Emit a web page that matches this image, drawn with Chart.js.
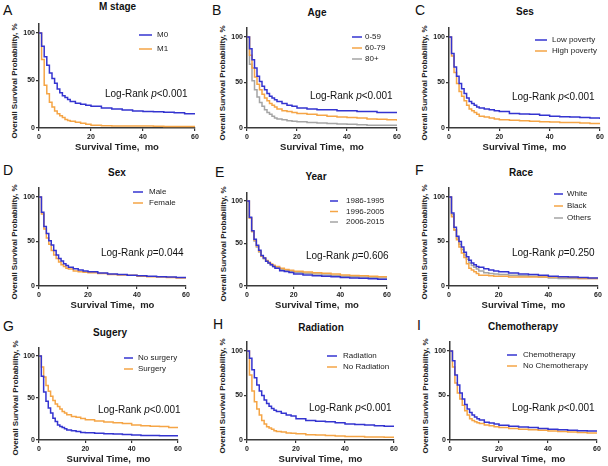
<!DOCTYPE html>
<html>
<head>
<meta charset="utf-8">
<script src="https://cdn.jsdelivr.net/npm/chart.js@4.4.0/dist/chart.umd.min.js"></script>
<style>
  body { margin: 0; background: #fff; width: 608px; height: 466px; position: relative; overflow: hidden;
         font-family: "Liberation Sans", Arial, sans-serif; }
  canvas { position: absolute; }
  .letter { position: absolute; font-size: 14px; line-height: 14px; color: #111; }
  .ttl { position: absolute; font-size: 10px; font-weight: bold; line-height: 10px; color: #111;
         transform: translate(-50%, -50%); white-space: nowrap; }
  .ytl { position: absolute; font-size: 8px; font-weight: bold; line-height: 8px; color: #222;
         transform: translate(-50%, -50%) rotate(-90deg); white-space: nowrap; }
</style>
</head>
<body>
<script>
// time points (months) shared by every curve
const months = [0, 1, 2, 3, 4, 5, 6, 7, 8, 9, 10, 11, 12, 14, 16, 18, 20, 24, 28, 32, 36, 40, 44, 48, 52, 56, 60];

// A - M stage
const mstageLabels = ['M0', 'M1'];
const mstageM0 = [100, 86, 75, 66, 58, 52, 47, 41, 37, 34, 32, 30, 28, 26, 25, 24, 23, 21, 20, 19, 18, 17.5, 17, 16.5, 16, 15, 15];
const mstageM1 = [100, 72, 45, 36, 27, 22, 18, 15, 13, 11, 9, 8, 7, 6, 5, 4, 3, 2.5, 2, 2, 2, 2, 1.8, 1.5, 1.5, 1.5, 1.5];

// B - Age
const ageLabels = ['0-59', '60-79', '80+'];
const age059 = [100, 87, 75, 66, 57, 51, 46, 42, 38, 35, 33, 31, 29, 27, 25, 24, 22, 21, 20, 20, 19, 19, 18, 18, 17, 17, 16.5];
const age6079 = [100, 80, 66, 56, 48, 42, 37, 33, 30, 27, 25, 23, 21, 19, 18, 17, 16, 15, 14, 13, 12, 11.5, 11, 10, 9.5, 9, 8];
const age80 = [100, 70, 52, 42, 34, 28, 24, 20, 17, 15, 13, 11, 10, 9, 8, 7.5, 7, 6, 5.5, 5, 4.5, 4, 3.5, 3, 3, 3, 3];

// C - Ses
const sesLabels = ['Low poverty', 'High poverty'];
const sesLow = [100, 82, 67, 57, 49, 43, 38, 33, 29, 27, 25, 23, 22, 21, 20, 19, 18, 16, 15.5, 15, 14, 13, 12.5, 12, 11.5, 11, 10];
const sesHigh = [100, 79, 61, 49, 40, 35, 30, 25, 21, 19, 17, 15, 13, 12, 11, 10, 9, 8.5, 8, 7.5, 7, 6.5, 6, 6, 5.5, 5, 5];

// D - Sex
const sexLabels = ['Male', 'Female'];
const sexMale = [100, 83, 67, 59, 51, 46, 40, 35, 31, 28, 25, 23, 21, 19.5, 18, 17, 16, 14.5, 13.5, 13, 12, 11.5, 11, 10.5, 10, 9.5, 9];
const sexFemale = [100, 81, 64, 54, 47, 40, 35, 31, 27, 24, 22, 20, 19, 17, 16, 15.5, 15, 14, 13, 12.5, 12, 11, 10.5, 10, 9.5, 9, 9];

// E - Year
const yearLabels = ['1986-1995', '1996-2005', '2006-2015'];
const year8695 = [100, 81, 65, 55, 48, 42, 36, 33, 29, 27, 25, 23, 21, 18, 17, 16, 14, 13, 12, 11.5, 11, 10, 9.5, 9, 8.5, 8, 7.5];
const year9605 = [100, 80, 64, 54, 47, 41, 35, 33, 30, 28, 26, 24.5, 23, 21, 19.5, 18.5, 17.5, 16.5, 15.5, 15, 14, 13, 12.5, 12, 11.5, 11, 10.5];
const year0615 = [100, 80, 64, 53, 46, 40, 35, 32, 29, 27, 25, 23, 21.5, 19.5, 18, 17, 16, 15, 14, 13, 12.5, 11.5, 11, 10.5, 10, 9.5, 9];

// F - Race
const raceLabels = ['White', 'Black', 'Others'];
const raceWhite = [100, 82, 66, 56, 50, 44, 38, 33, 29, 26, 24, 22, 21, 19.5, 18, 17, 16, 14.5, 13.5, 13, 12, 11, 10.5, 10, 9.5, 9, 9];
const raceBlack = [100, 78, 63, 52, 44, 37, 32, 25, 20, 18, 16, 14, 12, 12, 11.5, 11, 11, 10, 10, 10, 10, 10, 10, 9.5, 8.5, 8.5, 8.5];
const raceOthers = [100, 80, 63, 54, 47, 41, 35, 30, 26, 23, 21, 19, 17, 15, 14, 13.5, 13, 12, 11.5, 11, 10, 9, 8.5, 8.5, 8.5, 8.5, 8.5];

// G - Surgery
const surgeryLabels = ['No surgery', 'Surgery'];
const noSurgery = [100, 76, 57, 46, 38, 32, 26, 22, 18, 16, 15, 13.5, 12, 11, 10, 9, 8.5, 8, 7.5, 7, 6.5, 6, 5.5, 5.5, 5, 5, 5];
const surgery = [100, 87, 75, 65, 58, 52, 47, 43, 40, 37, 34, 32, 30, 28, 27, 25.5, 24, 22.5, 21.5, 20.5, 19.5, 18, 17, 16.5, 16, 15, 14];

// H - Radiation
const radiationLabels = ['Radiation', 'No Radiation'];
const radiation = [100, 92, 79, 70, 62, 55, 50, 45, 41, 38, 35.5, 33.5, 32, 30, 28, 27, 24, 22, 21, 20.5, 19.5, 18, 17.5, 17, 16, 15.5, 15];
const noRadiation = [100, 73, 55, 43, 35, 28, 22, 18, 15, 13.5, 12, 10.5, 9.5, 9, 8, 7.5, 7, 6, 5.5, 5, 4.5, 4, 4, 3.5, 3.5, 3, 3];

// I - Chemotherapy
const chemoLabels = ['Chemotherapy', 'No Chemotherapy'];
const chemo = [100, 89, 73, 62, 53, 46, 40, 35, 31, 28, 26, 24, 22.5, 20, 19, 18, 16.5, 15.5, 14.5, 14, 13, 12, 11.5, 11, 10.5, 10, 9.5];
const noChemo = [100, 82, 64, 53, 46, 39, 33, 28, 24, 22, 20.5, 19.5, 18.5, 17, 16, 15, 14, 13, 12, 11.5, 11, 10, 9.5, 9, 8.5, 8, 7.5];

const BLUE = '#3434d0';
const ORANGE = '#f5a546';
const GRAY = '#a5a5a5';
const FONT = '"Liberation Sans", Arial, sans-serif';

// plot: [left, right, y of 100, y of 0] in page pixels
const panels = [
  { letter: 'A', title: 'M stage', labels: mstageLabels, values: [mstageM0, mstageM1], colors: [BLUE, ORANGE], p: '<0.001',
    plot: [39, 195, 33, 128], yTitleX: 15, letterAt: [3, 5], titleAt: [117.5, 7], legend: [139, 152, 157, 35, 14], rank: [105, 94] },
  { letter: 'B', title: 'Age', labels: ageLabels, values: [age059, age6079, age80], colors: [BLUE, ORANGE, GRAY], p: '<0.001',
    plot: [247, 397, 37, 128], yTitleX: 223, letterAt: [212, 5], titleAt: [317, 13], legend: [352, 362, 365, 37, 11], rank: [310, 96] },
  { letter: 'C', title: 'Ses', labels: sesLabels, values: [sesLow, sesHigh], colors: [BLUE, ORANGE], p: '<0.001',
    plot: [449, 600, 37, 128], yTitleX: 425, letterAt: [415, 5], titleAt: [525, 12], legend: [535, 547, 552, 40, 11], rank: [512, 97] },
  { letter: 'D', title: 'Sex', labels: sexLabels, values: [sexMale, sexFemale], colors: [BLUE, ORANGE], p: '=0.044',
    plot: [39, 186, 197, 286], yTitleX: 15, letterAt: [3, 165], titleAt: [117, 173], legend: [133, 143, 149, 192, 11], rank: [101, 253] },
  { letter: 'E', title: 'Year', labels: yearLabels, values: [year8695, year9605, year0615], colors: [BLUE, ORANGE, GRAY], p: '=0.606',
    plot: [247, 387, 201, 286], yTitleX: 224, letterAt: [215, 167], titleAt: [316, 177], legend: [330, 338, 346, 201, 10.5], rank: [306, 256] },
  { letter: 'F', title: 'Race', labels: raceLabels, values: [raceWhite, raceBlack, raceOthers], colors: [BLUE, ORANGE, GRAY], p: '=0.250',
    plot: [449, 598, 197, 286], yTitleX: 425, letterAt: [415, 165], titleAt: [521, 173], legend: [554, 563, 567, 194, 12], rank: [512, 253] },
  { letter: 'G', title: 'Sugery', labels: surgeryLabels, values: [noSurgery, surgery], colors: [BLUE, ORANGE], p: '<0.001',
    plot: [39, 178, 356, 440], yTitleX: 16, letterAt: [3, 321], titleAt: [110, 332.5], legend: [124, 133, 138, 358, 11], rank: [98, 410] },
  { letter: 'H', title: 'Radiation', labels: radiationLabels, values: [radiation, noRadiation], colors: [BLUE, ORANGE], p: '<0.001',
    plot: [247, 394, 351, 440], yTitleX: 223, letterAt: [213, 319], titleAt: [321, 327.5], legend: [327, 337, 343, 356, 11], rank: [309, 408] },
  { letter: 'I', title: 'Chemotherapy', labels: chemoLabels, values: [chemo, noChemo], colors: [BLUE, ORANGE], p: '<0.001',
    plot: [450, 597, 351, 440], yTitleX: 426, letterAt: [417, 320], titleAt: [523, 327], legend: [507, 517, 523, 355, 11], rank: [512, 408] },
];

// legend + log-rank text, drawn in page coordinates shifted by the canvas offset
function makeOverlay(pn, ox, oy) {
  return {
    id: 'overlay',
    afterDraw(chart) {
      const ctx = chart.ctx;
      const [x1, x2, lx, ly, gap] = pn.legend;
      ctx.save();
      ctx.textBaseline = 'middle';
      ctx.font = '8px ' + FONT;
      chart.data.datasets.forEach((ds, i) => {
        const y = ly + gap * i - oy;
        ctx.strokeStyle = ds.borderColor;
        ctx.lineWidth = 1.5;
        ctx.beginPath();
        ctx.moveTo(x1 - ox, y);
        ctx.lineTo(x2 - ox, y);
        ctx.stroke();
        ctx.fillStyle = '#222';
        ctx.fillText(ds.label, lx - ox, y);
      });
      let x = pn.rank[0] - ox;
      const y = pn.rank[1] - oy;
      ctx.fillStyle = '#111';
      ctx.font = '10px ' + FONT;
      ctx.fillText('Log-Rank ', x, y);
      x += ctx.measureText('Log-Rank ').width;
      ctx.font = 'italic 10px ' + FONT;
      ctx.fillText('p', x, y);
      x += ctx.measureText('p').width;
      ctx.font = '10px ' + FONT;
      ctx.fillText(pn.p, x, y);
      ctx.restore();
    }
  };
}

function addDiv(cls, text, x, y) {
  const d = document.createElement('div');
  d.className = cls;
  d.textContent = text;
  d.style.left = x + 'px';
  d.style.top = y + 'px';
  document.body.appendChild(d);
}

panels.forEach(pn => {
  const [pl, pr, y100, y0] = pn.plot;
  const pt = y100 - (y0 - y100) * 0.1;   // top of axis = 110 %
  const left = Math.round(pn.yTitleX - 4.8);
  const top = Math.floor(pt - 5);
  const bottom = Math.round(y0 + 24.7);
  const right = Math.ceil(pr + 6);

  addDiv('letter', pn.letter, pn.letterAt[0], pn.letterAt[1] - 2);
  addDiv('ttl', pn.title, pn.titleAt[0], pn.titleAt[1]);
  addDiv('ytl', 'Overall Survival Probability, %', pn.yTitleX, (y100 + y0) / 2);

  const canvas = document.createElement('canvas');
  canvas.width = right - left;
  canvas.height = bottom - top;
  canvas.style.left = left + 'px';
  canvas.style.top = top + 'px';
  canvas.style.width = (right - left) + 'px';
  canvas.style.height = (bottom - top) + 'px';
  document.body.appendChild(canvas);

  const axisGrid = { display: true, drawOnChartArea: false, drawTicks: true, tickLength: 3, color: '#333', lineWidth: 1.2 };
  const axisBorder = { display: true, color: '#3a3a3a', width: 1.5 };
  const tickFont = { family: FONT, size: 7, weight: 'bold' };

  new Chart(canvas.getContext('2d'), {
    type: 'line',
    data: {
      datasets: pn.values.map((vals, i) => ({
        label: pn.labels[i],
        data: months.map((m, k) => ({ x: m, y: vals[k] })),
        borderColor: pn.colors[i],
        borderWidth: 1.5,
        pointRadius: 0,
        stepped: 'before',
        fill: false,
      }))
    },
    options: {
      responsive: false,
      animation: false,
      events: [],
      layout: { padding: { top: pt - top, right: right - pr, left: 0, bottom: 0 } },
      plugins: { legend: { display: false }, tooltip: { enabled: false } },
      scales: {
        x: {
          type: 'linear', min: 0, max: 60,
          grid: axisGrid, border: axisBorder,
          ticks: { stepSize: 20, font: tickFont, color: '#222', padding: 2, maxRotation: 0 },
          title: { display: true, text: 'Survival Time,  mo', color: '#222', padding: 0,
                   font: { family: FONT, size: 9.5, weight: 'bold' } },
          afterFit: s => { s.height = bottom - y0; },
        },
        y: {
          type: 'linear', min: 0, max: 110,
          grid: axisGrid, border: axisBorder,
          ticks: { stepSize: 50, font: tickFont, color: '#222', padding: 1 },
          afterBuildTicks: s => { s.ticks = s.ticks.filter(t => t.value <= 100); },
          title: { display: false },
          afterFit: s => { s.width = pl - left; },
        }
      }
    },
    plugins: [makeOverlay(pn, left, top)]
  });
});
</script>
</body>
</html>
